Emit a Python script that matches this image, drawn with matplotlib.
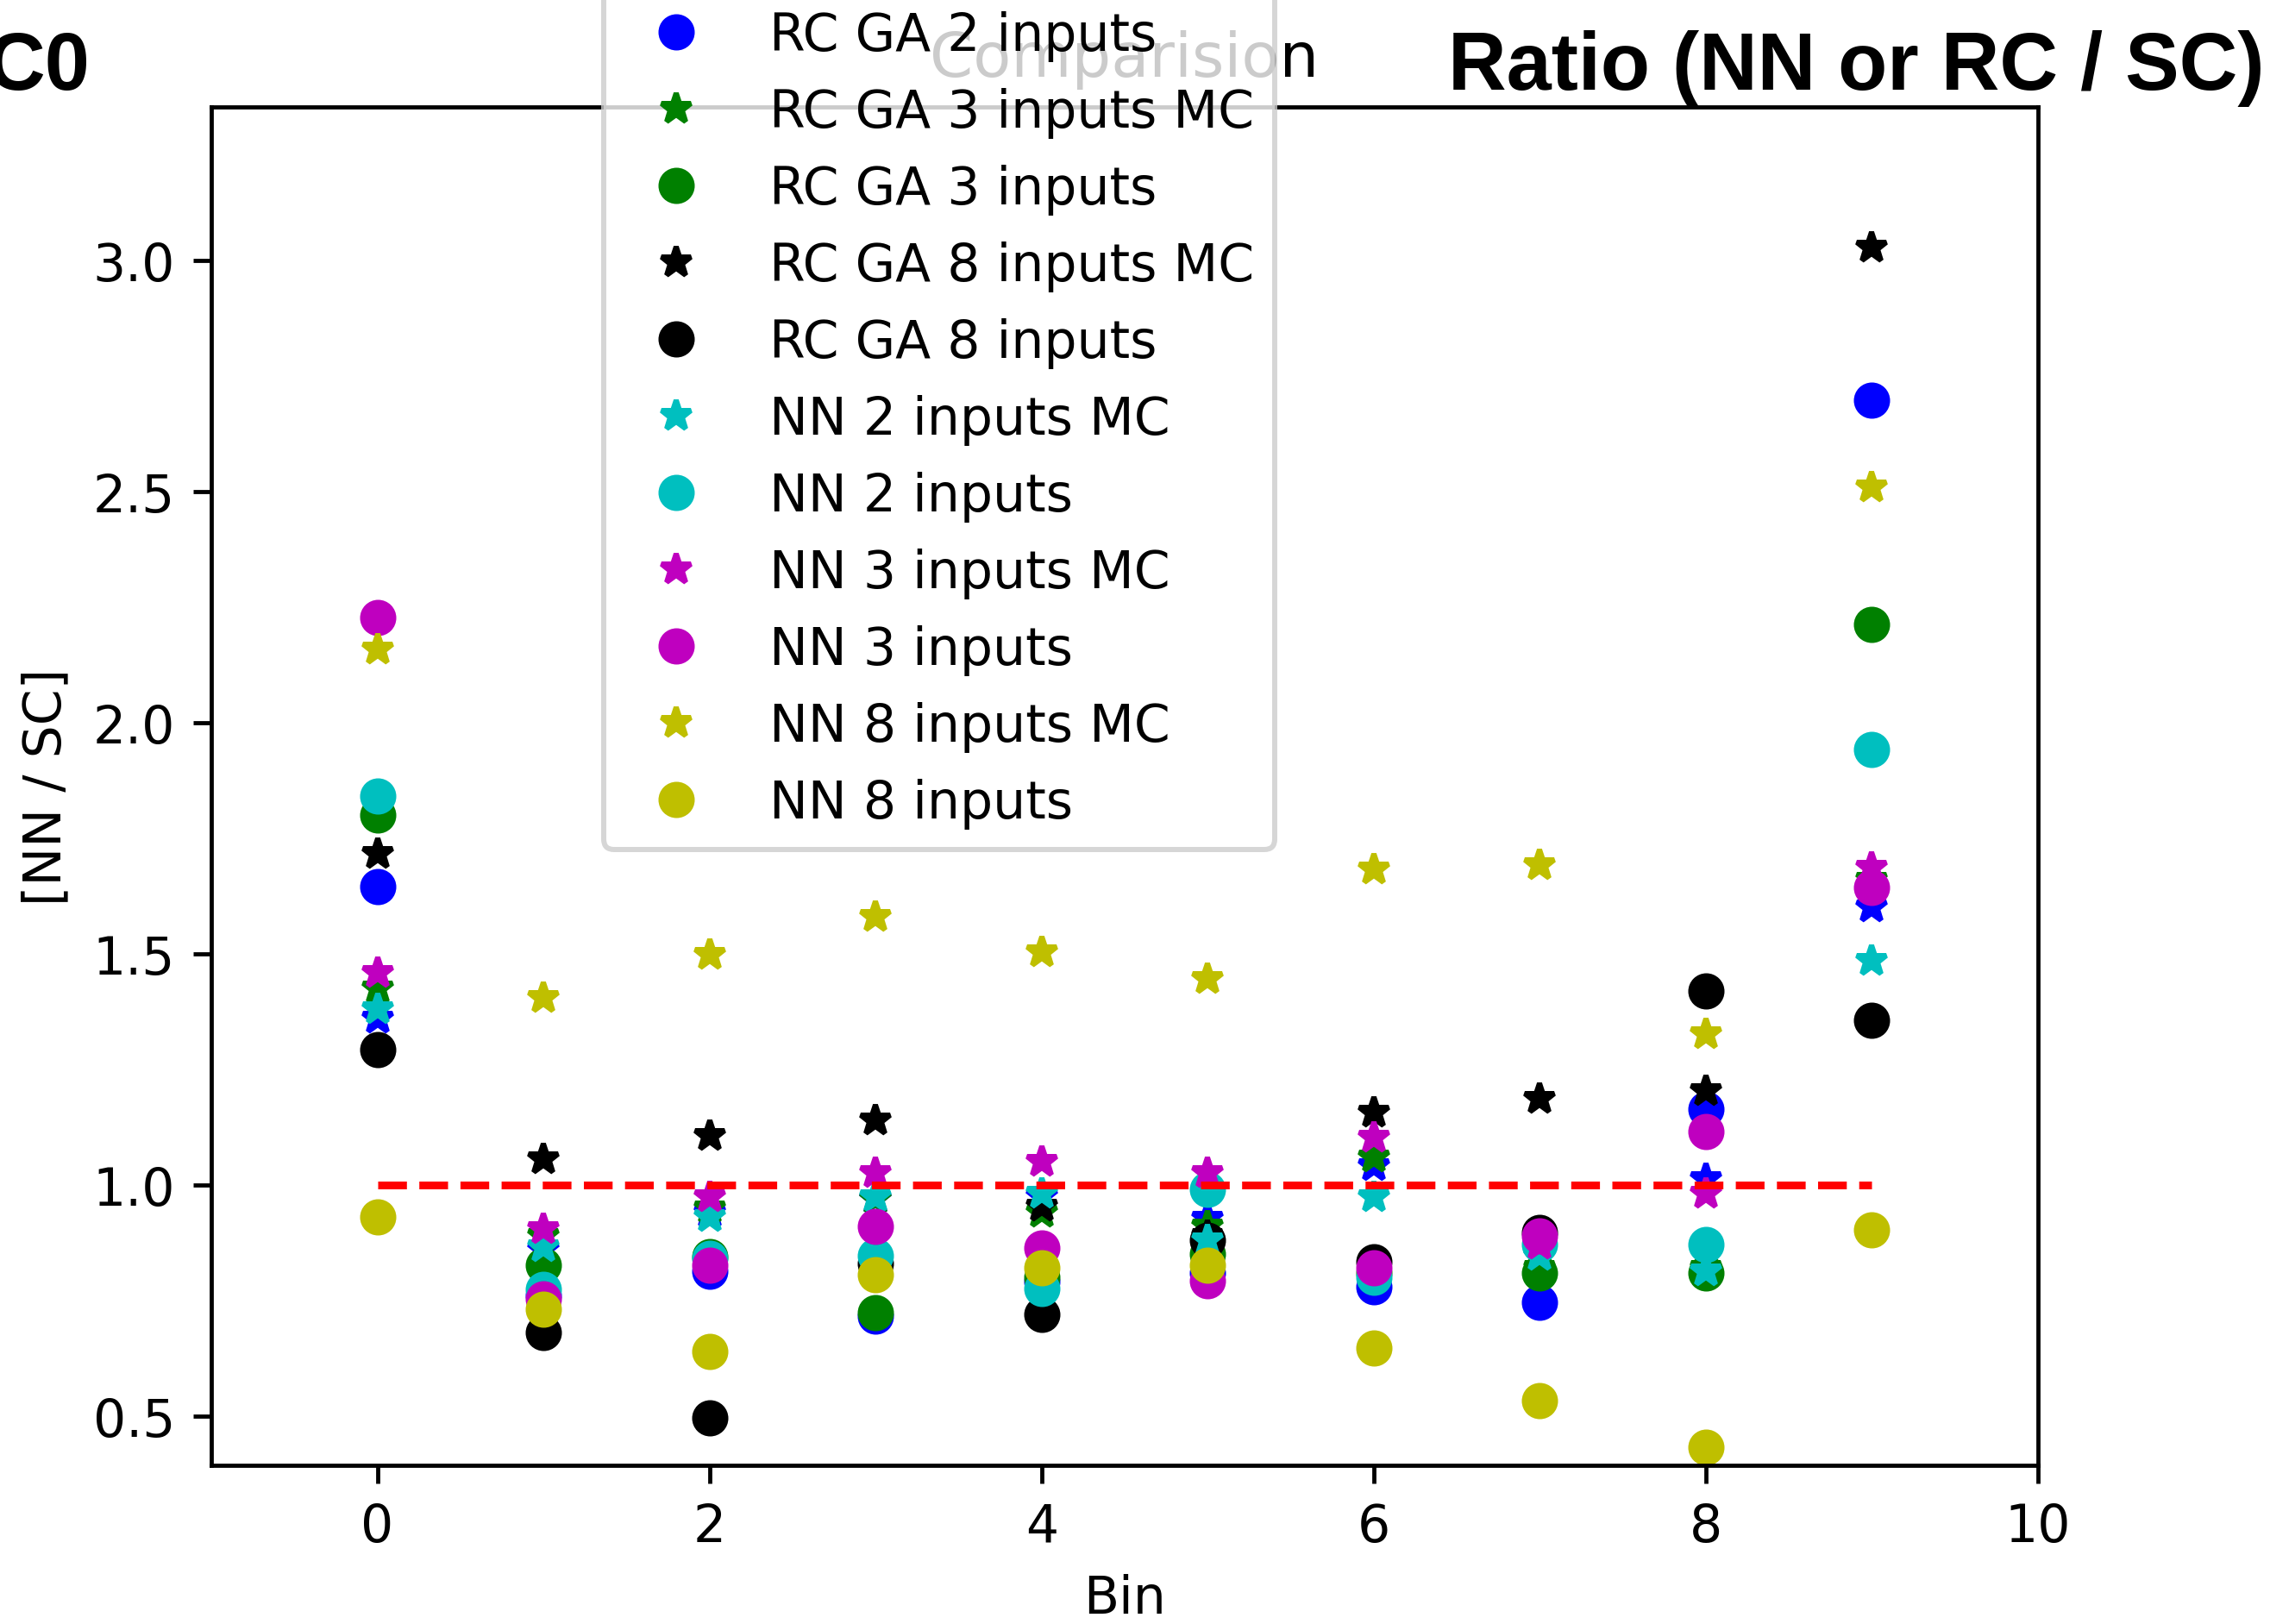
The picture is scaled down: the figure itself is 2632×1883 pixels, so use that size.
import matplotlib
matplotlib.use("Agg")
import matplotlib.pyplot as plt

bins = [0, 1, 2, 3, 4, 5, 6, 7, 8, 9]

labels = ["RC GA 2 inputs MC", "RC GA 2 inputs",
          "RC GA 3 inputs MC", "RC GA 3 inputs",
          "RC GA 8 inputs MC", "RC GA 8 inputs",
          "NN 2 inputs MC", "NN 2 inputs",
          "NN 3 inputs MC", "NN 3 inputs",
          "NN 8 inputs MC", "NN 8 inputs"]

rc2_mc = [1.36, 0.86, 0.94, 0.97, 0.975, 0.926, 1.04, 0.85, 1.013, 1.60]
rc2 = [1.646, 0.76, 0.813, 0.716, 0.79, 0.81, 0.78, 0.746, 1.163, 2.698]
rc3_mc = [1.425, 0.89, 0.95, 0.97, 0.94, 0.91, 1.06, 0.82, 0.82, 1.66]
rc3 = [1.80, 0.826, 0.845, 0.723, 0.80, 0.85, 0.81, 0.81, 0.81, 2.213]
rc8_mc = [1.717, 1.056, 1.106, 1.140, 0.953, 0.89, 1.156, 1.186, 1.203, 3.029]
rc8 = [1.292, 0.680, 0.496, 0.83, 0.720, 0.88, 0.834, 0.896, 1.419, 1.356]
nn2_mc = [1.380, 0.866, 0.930, 0.973, 0.980, 0.880, 0.973, 0.847, 0.813, 1.484]
nn2 = [1.842, 0.773, 0.84, 0.847, 0.776, 0.990, 0.80, 0.87, 0.870, 1.942]
nn3_mc = [1.459, 0.905, 0.973, 1.026, 1.050, 1.026, 1.103, 0.87, 0.980, 1.687]
nn3 = [2.228, 0.753, 0.826, 0.910, 0.863, 0.793, 0.820, 0.890, 1.116, 1.644]
nn8_mc = [2.159, 1.404, 1.498, 1.580, 1.504, 1.445, 1.683, 1.692, 1.327, 2.509]
nn8 = [0.931, 0.730, 0.640, 0.806, 0.820, 0.826, 0.646, 0.533, 0.433, 0.903]

series = [rc2_mc, rc2, rc3_mc, rc3, rc8_mc, rc8, nn2_mc, nn2, nn3_mc, nn3, nn8_mc, nn8]
styles = ["b*", "bo", "g*", "go", "k*", "ko", "c*", "co", "m*", "mo", "y*", "yo"]
reference = [1.0] * len(bins)

DPI = 432
fig = plt.figure(figsize=(2632 / DPI, 1884 / DPI), dpi=DPI)
ax = fig.add_axes([0.0931, 0.0977, 0.8047, 0.8360])

for vals, st, lab in zip(series, styles, labels):
    ax.plot(bins, vals, st, label=lab)
ax.plot(bins, reference, "r--")

ax.set_xlim(-1, 10)
ax.set_ylim(0.393, 3.333)
ax.set_xticks([0, 2, 4, 6, 8, 10])
ax.set_yticks([0.5, 1.0, 1.5, 2.0, 2.5, 3.0])
ax.set_xlabel("Bin")
ax.set_ylabel("[NN / SC]")
ax.set_title("Comparision")

handles, labs = ax.get_legend_handles_labels()
ax.legend(handles[:12], labs[:12], loc="lower left",
          bbox_to_anchor=(0.2148, 0.4533), borderaxespad=0)

fig.text(104 / 2632, 1 - 104 / 1884, "C0", ha="right", va="baseline",
         fontsize=15.6, fontweight="bold", family=["Liberation Sans", "DejaVu Sans"])
fig.text(1679 / 2632, 1 - 104 / 1884, "Ratio (NN or RC / SC)", ha="left", va="baseline",
         fontsize=15.6, fontweight="bold", family=["Liberation Sans", "DejaVu Sans"])

fig.savefig("out.png", dpi=DPI)
